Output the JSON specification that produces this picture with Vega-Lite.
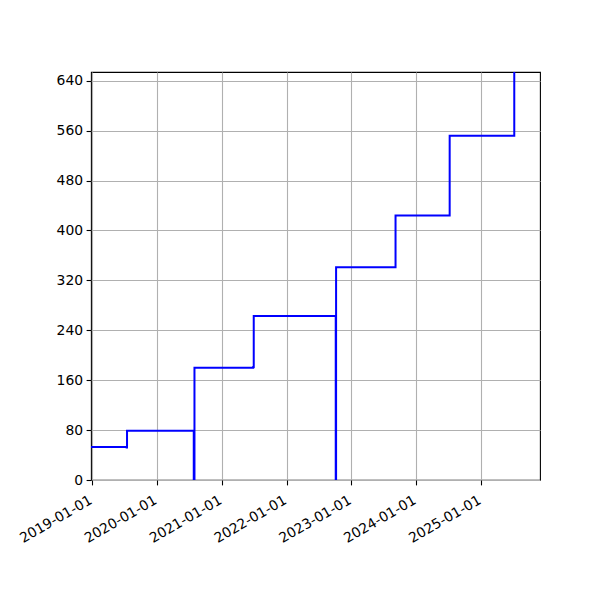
{
  "$schema": "https://vega.github.io/schema/vega-lite/v6.json",
  "width": 449,
  "height": 408,
  "autosize": "none",
  "padding": {"left": 91, "top": 72, "right": 60, "bottom": 120},
  "background": "white",
  "config": {
    "view": {"stroke": "black", "strokeWidth": 1.1},
    "axis": {
      "labelFont": "DejaVu Sans",
      "labelFontSize": 13.9,
      "labelColor": "black",
      "domain": false,
      "tickColor": "black",
      "tickSize": 4.9,
      "tickWidth": 1.1,
      "labelPadding": 3.5,
      "gridColor": "#b0b0b0",
      "gridWidth": 1.1,
      "title": null
    }
  },
  "data": {
    "values": [
      {"date": "2018-12-26T00:00:00Z", "count": 53},
      {"date": "2019-07-15T00:00:00Z", "count": 52},
      {"date": "2019-07-17T00:00:00Z", "count": 79},
      {"date": "2020-07-27T00:00:00Z", "count": 0},
      {"date": "2020-07-31T00:00:00Z", "count": 180},
      {"date": "2021-06-27T00:00:00Z", "count": 181},
      {"date": "2021-06-30T00:00:00Z", "count": 263},
      {"date": "2022-10-05T00:00:00Z", "count": 0},
      {"date": "2022-10-07T00:00:00Z", "count": 341},
      {"date": "2023-09-07T00:00:00Z", "count": 424},
      {"date": "2024-07-08T00:00:00Z", "count": 552},
      {"date": "2025-07-07T00:00:00Z", "count": 654}
    ]
  },
  "mark": {"type": "line", "interpolate": "step-after", "color": "#0000ff", "strokeWidth": 2, "clip": true},
  "encoding": {
    "x": {
      "field": "date",
      "type": "temporal",
      "scale": {
        "type": "utc",
        "domain": [
          {"year": 2018, "month": 12, "date": 26, "utc": true},
          {"year": 2025, "month": 11, "date": 29, "utc": true}
        ]
      },
      "axis": {
        "values": [
          {"year": 2019, "month": 1, "date": 1, "utc": true},
          {"year": 2020, "month": 1, "date": 1, "utc": true},
          {"year": 2021, "month": 1, "date": 1, "utc": true},
          {"year": 2022, "month": 1, "date": 1, "utc": true},
          {"year": 2023, "month": 1, "date": 1, "utc": true},
          {"year": 2024, "month": 1, "date": 1, "utc": true},
          {"year": 2025, "month": 1, "date": 1, "utc": true}
        ],
        "labelExpr": "utcFormat(datum.value, '%Y-%m-%d')",
        "labelAngle": -30,
        "labelAlign": "right",
        "labelBaseline": "top",
        "labelPadding": 8,
        "labelOffset": -5,
        "labelOverlap": false,
        "labelFlush": false
      }
    },
    "y": {
      "field": "count",
      "type": "quantitative",
      "scale": {"domain": [0, 654], "nice": false, "zero": true},
      "axis": {"values": [0, 80, 160, 240, 320, 400, 480, 560, 640], "labelOverlap": false, "labelFlush": false}
    }
  }
}
